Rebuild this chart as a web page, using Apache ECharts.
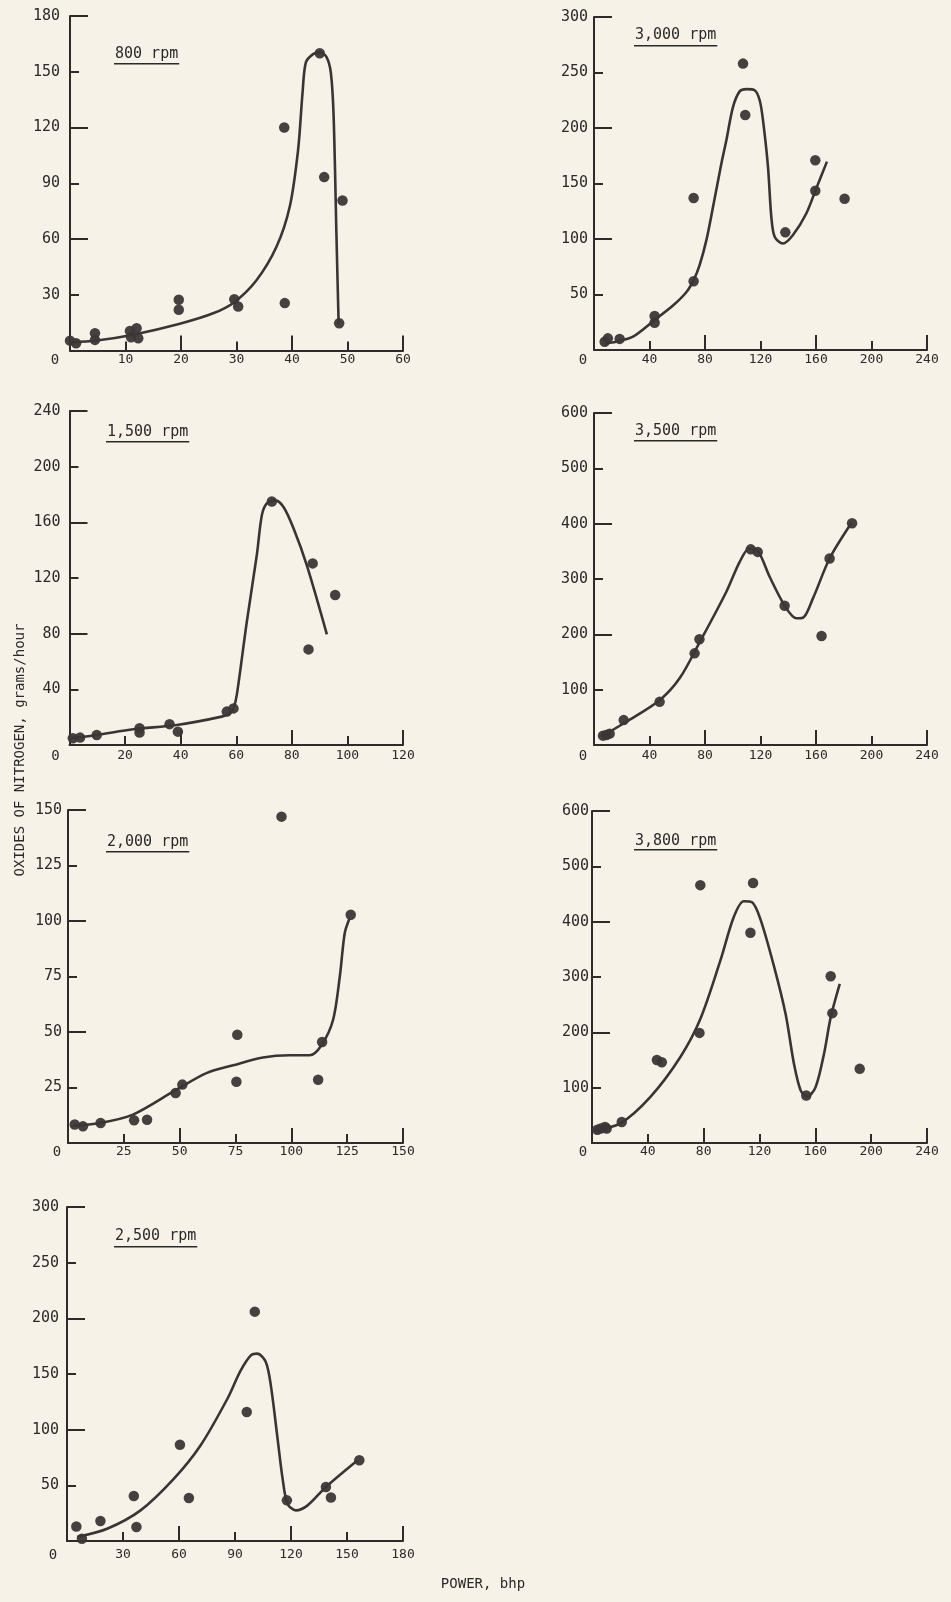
<!DOCTYPE html>
<html>
<head>
<meta charset="utf-8">
<script src="https://cdn.jsdelivr.net/npm/echarts@6/dist/echarts.min.js"></script>
<style>
html,body{margin:0;padding:0;background:#f7f2e8;}
#chart{width:951px;height:1602px;}
</style>
</head>
<body>
<div id="chart"></div>
<script>
// ---- data ----
const titles = ['800 rpm', '3,000 rpm', '1,500 rpm', '3,500 rpm', '2,000 rpm', '3,800 rpm', '2,500 rpm'];
const xMaxes = [60, 240, 120, 240, 150, 240, 180];
const xSteps = [10, 40, 20, 40, 25, 40, 30];
const yMaxes = [180, 300, 240, 600, 150, 600, 300];
const ySteps = [30, 50, 40, 100, 25, 100, 50];

const rpm800Points = [[0,5.3],[1.1,3.9],[4.5,9.3],[4.5,5.7],[10.8,10.5],[12,12],[11,7.1],[12.3,6.6],[19.6,27.3],[19.6,21.9],[29.6,27.6],[30.3,23.7],[38.6,120],[38.7,25.5],[45,160],[45.8,93.3],[49.1,80.7],[48.5,14.7]];
const rpm800Curve = [[0,4.5],[4.8,5.4],[11.4,8.5],[19.8,14.4],[25.8,20],[29.6,26],[33.6,37.8],[37.2,55.8],[39.6,77.5],[41.1,108],[41.9,138.7],[42.5,155],[43.8,159.5],[45,160.5],[46.2,158],[47,149.5],[47.5,126],[48,63],[48.4,14.4]];

const rpm3000Points = [[7.7,7.5],[10,10.5],[18.5,10],[43.7,30.6],[43.7,24.6],[71.8,137],[71.8,62],[107.4,258],[109,211.7],[137.9,106],[159.5,171],[159.5,143.5],[180.6,136.3]];
const rpm3000Curve = [[7.7,6],[16,7.5],[28.1,12],[43.7,27],[56.9,40],[66.5,52],[71.8,63],[76,76],[81,99],[85.8,129],[91.8,168],[95.4,189],[100.2,219],[105,233],[110,235],[115.8,234],[119.4,225],[121.8,207],[125.4,165],[127.8,120],[130.2,102],[136.2,96],[143.4,103.6],[153,123],[160.2,145.6],[167.9,169.7]];

const rpm1500Points = [[1.2,4.8],[3.8,5.3],[9.8,7.2],[25.2,12],[25.2,9],[36,15],[39,9.6],[56.6,24],[59,26.3],[72.8,175],[87.5,130.5],[86,68.7],[95.6,107.8]];
const rpm1500Curve = [[0.2,4.8],[9.8,7.2],[23,11.3],[38.6,14.4],[54.8,20.4],[57.8,22.8],[59,26.3],[60.2,36],[63.8,88.6],[67.4,136.5],[69.2,165],[71,173.6],[74,175.8],[77,171],[80.6,155.7],[85.4,129],[92.6,79.5]];

const rpm3500Points = [[6.5,16.9],[8.9,18],[11.3,20.5],[21.4,45],[47.3,78],[72.5,165.6],[76,191],[113,353.6],[118,349],[137.4,251.8],[164,197],[169.8,337],[186,400.6]];
const rpm3500Curve = [[6.5,16.9],[23.3,42],[47.3,81],[61.7,120.5],[76,185],[95.4,277],[105,331],[112,355],[118.2,350.6],[126.6,304],[137.4,252],[145.8,229],[150.6,230],[157.8,265],[169.8,337],[185.4,400.6]];

const rpm2000Points = [[3,8.3],[6.7,7.5],[14.6,9],[29.6,10.2],[35.4,10.5],[48.2,22.5],[51.2,26.3],[75.8,48.8],[75.4,27.6],[95.6,147],[112,28.5],[113.8,45.5],[126.6,102.8]];
const rpm2000Curve = [[2.2,7.8],[14.2,9],[29.1,12.8],[48.5,24],[62,31.5],[73.9,35],[87.3,38.5],[99.3,39.5],[108.2,39.5],[113.5,44],[118.7,55.5],[121.7,75],[123.9,94.5],[126,101]];

const rpm3800Points = [[3.8,24],[6.2,26],[9.3,29],[10.5,26],[21.3,38],[46.5,150],[50,146],[77.6,466],[77,199],[115.4,470],[113.5,380],[153.5,86],[171,301.5],[172.2,234.7],[191.8,134]];
const rpm3800Curve = [[1,22.9],[20,35],[41.7,83],[63.2,155],[77.6,224],[92,330],[101.5,408],[108.7,437],[114.7,435],[120.7,404],[130.3,320],[138.7,233],[144.7,143],[149.5,95],[154.2,84],[160.2,101],[166.2,161],[171,227],[177.5,287.6]];

const rpm2500Points = [[5,13],[8,2],[17.9,18],[35.8,40.4],[37.2,12.6],[60.5,86.5],[65.3,38.6],[96.3,115.9],[100.6,206],[117.8,36.5],[138.7,48.5],[141.4,39],[156.6,72.5]];
const rpm2500Curve = [[5.4,3.6],[21.5,11],[39.4,27.5],[57.3,56],[71.6,86],[86,128],[93,153],[98.5,166.8],[102,168.3],[106.5,160.8],[109.2,139.8],[112.8,92],[115.5,56],[118.1,33.5],[122.6,27.5],[128.9,32],[138.7,48.5],[155.7,72.5]];

const yTitle = 'OXIDES OF NITROGEN, grams/hour';
const xTitle = 'POWER, bhp';

// ---- layout ----
const pointsList = [rpm800Points, rpm3000Points, rpm1500Points, rpm3500Points, rpm2000Points, rpm3800Points, rpm2500Points];
const curvesList = [rpm800Curve, rpm3000Curve, rpm1500Curve, rpm3500Curve, rpm2000Curve, rpm3800Curve, rpm2500Curve];
const grids = [
  {left:70, top:16, width:333, height:334.5},
  {left:594, top:17, width:333, height:333},
  {left:69.5, top:411, width:333.5, height:334},
  {left:594, top:413, width:333, height:332},
  {left:68, top:810, width:335, height:333},
  {left:592, top:811, width:335, height:332},
  {left:67, top:1207, width:336, height:334}
];
const yLabelMargin = [10, 6, 9, 6, 6, 3, 8];
const xLabelMargin = [3, 3, 4, 4, 2, 2, 7];
const zeroShift = [15, 11, 14, 11, 11, 9, 14];
const titlePos = [[115,54,63],[635,35,45],[107,432,441],[635,431,440],[107,842,851],[635,841,849],[115,1236,1246]];

const FONT = "'DejaVu Sans Mono', monospace";
const INK = '#2f2b2b';

const xAxes = [], yAxes = [], series = [], graphics = [];
grids.forEach((g, i) => {
  const lineStyle = {color: INK, width: 2};
  xAxes.push({
    gridIndex: i, type: 'value', min: 0, max: xMaxes[i], interval: xSteps[i], position: 'bottom',
    axisLine: {show: true, onZero: false, lineStyle},
    axisTick: {show: true, inside: true, length: 9, lineStyle},
    splitLine: {show: false},
    axisLabel: {
      show: true, margin: xLabelMargin[i], color: '#2a2a2a', fontFamily: FONT, fontSize: 13,
      showMinLabel: true, showMaxLabel: true,
      formatter: v => v === 0 ? '{o|0}' : String(v),
      rich: {o: {fontFamily: FONT, fontSize: 14, color: '#2a2a2a', padding: [0, zeroShift[i] * 2, 0, 0]}}
    }
  });
  xAxes.push({
    gridIndex: i, type: 'value', min: 0, max: xMaxes[i], interval: xSteps[i] * 2, position: 'bottom',
    axisLine: {show: false, onZero: false},
    axisTick: {show: true, inside: true, length: 15, lineStyle},
    splitLine: {show: false}, axisLabel: {show: false}
  });
  yAxes.push({
    gridIndex: i, type: 'value', min: 0, max: yMaxes[i], interval: ySteps[i], position: 'left',
    axisLine: {show: true, onZero: false, lineStyle},
    axisTick: {show: true, inside: true, length: 9, lineStyle},
    splitLine: {show: false},
    axisLabel: {
      show: true, margin: yLabelMargin[i], color: '#2a2a2a', fontFamily: FONT, fontSize: 15,
      formatter: v => v === 0 ? '' : String(v)
    }
  });
  yAxes.push({
    gridIndex: i, type: 'value', min: 0, max: yMaxes[i], interval: ySteps[i] * 2, position: 'left',
    axisLine: {show: false, onZero: false},
    axisTick: {show: true, inside: true, length: 18, lineStyle},
    splitLine: {show: false}, axisLabel: {show: false}
  });
  series.push({
    type: 'line', xAxisIndex: i * 2, yAxisIndex: i * 2, data: curvesList[i],
    smooth: 0.3, showSymbol: false, symbol: 'none',
    lineStyle: {color: '#3a3535', width: 2.6}, z: 2, silent: true
  });
  series.push({
    type: 'scatter', xAxisIndex: i * 2, yAxisIndex: i * 2, data: pointsList[i],
    symbol: 'circle', symbolSize: 10.5,
    itemStyle: {color: '#3b3737', opacity: 0.95}, z: 3, silent: true
  });
  const [tx, ty, uy] = titlePos[i];
  const tw = titles[i].length * 0.602 * 15;
  graphics.push({
    type: 'text', x: tx, y: ty,
    style: {text: titles[i], font: '15px ' + FONT, fill: '#2a2a2a', verticalAlign: 'middle', align: 'left'}
  });
  graphics.push({
    type: 'rect', shape: {x: tx - 1, y: uy, width: tw + 2, height: 1.5},
    style: {fill: '#2a2a2a'}
  });
});

graphics.push({
  type: 'text', x: 20, y: 750, rotation: Math.PI / 2,
  style: {text: yTitle, font: '14px ' + FONT, fill: '#2a2a2a', align: 'center', verticalAlign: 'middle'}
});
graphics.push({
  type: 'text', x: 483, y: 1584,
  style: {text: xTitle, font: '14px ' + FONT, fill: '#2a2a2a', align: 'center', verticalAlign: 'middle'}
});

const chart = echarts.init(document.getElementById('chart'), null, {renderer: 'canvas'});
chart.setOption({
  backgroundColor: '#f7f2e8',
  animation: false,
  grid: grids.map(g => Object.assign({containLabel: false}, g)),
  xAxis: xAxes,
  yAxis: yAxes,
  series: series,
  graphic: graphics
});
</script>
</body>
</html>
